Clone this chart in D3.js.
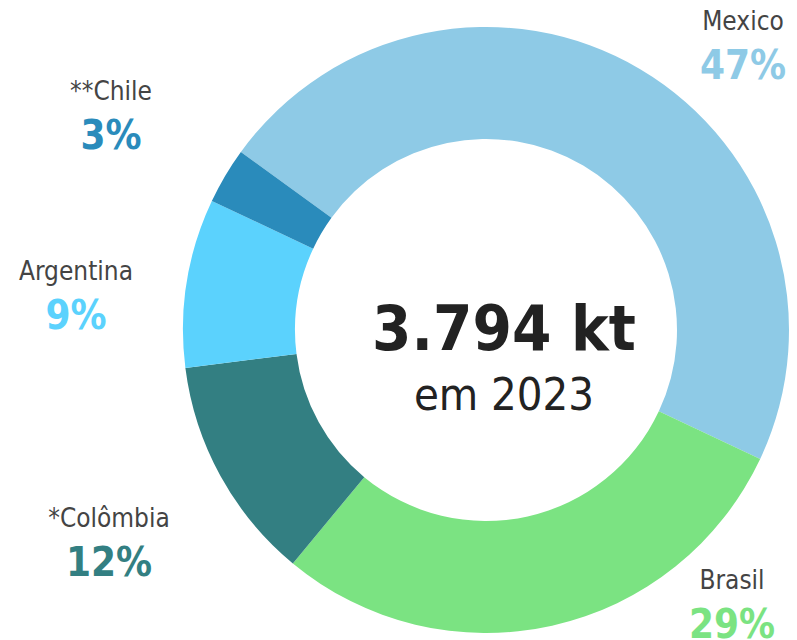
<!DOCTYPE html>
<html>
<head>
<meta charset="utf-8">
<script src="https://cdn.jsdelivr.net/npm/d3@7"></script>
<style>
  html, body { margin: 0; padding: 0; background: #ffffff; }
  svg { display: block; }
  text { font-family: "DejaVu Sans Condensed", "Roboto", sans-serif; }
</style>
</head>
<body>
<svg id="chart" width="797" height="640"></svg>
<script>
// Share of volume by country (percent), 2023
const countries = ["Mexico", "Brasil", "*Colômbia", "Argentina", "**Chile"];
const shares = [47, 29, 12, 9, 3];
const colors = ["#8ecae6", "#7be382", "#337f82", "#5bd2fd", "#2a8bbb"];
const totalLabel = "3.794 kt";
const yearLabel = "em 2023";

// Label anchors (centre x, baseline of name) per country
const labelAnchors = [
  [743, 30], [732, 589], [109, 527], [76, 280], [111, 100]
];

const svg = d3.select("#chart");
const cx = 486, cy = 330, rOuter = 303, rInner = 191;
const start = -54 * Math.PI / 180;

const pie = d3.pie()
  .sort(null)
  .value(d => d)
  .startAngle(start)
  .endAngle(start + 2 * Math.PI);

const arc = d3.arc().innerRadius(rInner).outerRadius(rOuter);

const g = svg.append("g").attr("transform", `translate(${cx},${cy})`);
g.selectAll("path")
  .data(pie(shares))
  .join("path")
  .attr("d", arc)
  .attr("fill", (d, i) => colors[i]);

// Centre total
svg.append("text")
  .attr("x", 504).attr("y", 350)
  .attr("text-anchor", "middle")
  .attr("font-size", 63).attr("font-weight", "bold")
  .attr("fill", "#222222")
  .text(totalLabel);
svg.append("text")
  .attr("x", 504).attr("y", 410)
  .attr("text-anchor", "middle")
  .attr("font-size", 45)
  .attr("fill", "#222222")
  .text(yearLabel);

// Country labels with percentages
const labels = svg.selectAll("g.lbl")
  .data(countries)
  .join("g").attr("class", "lbl")
  .attr("transform", (d, i) => `translate(${labelAnchors[i][0]},${labelAnchors[i][1]})`);

labels.append("text")
  .attr("text-anchor", "middle")
  .attr("font-size", 26)
  .attr("fill", "#444444")
  .text(d => d);

labels.append("text")
  .attr("y", 49)
  .attr("text-anchor", "middle")
  .attr("font-size", 40).attr("font-weight", "bold")
  .attr("fill", (d, i) => colors[i])
  .text((d, i) => shares[i] + "%");
</script>
</body>
</html>
